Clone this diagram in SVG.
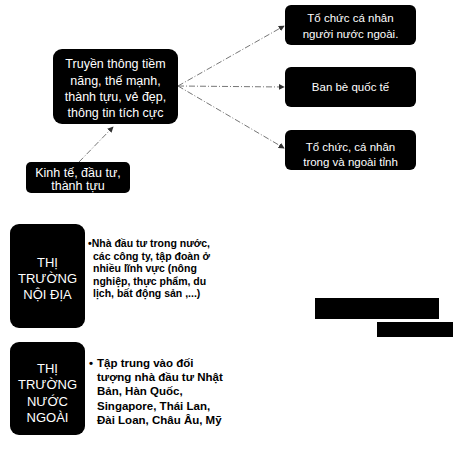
<svg xmlns="http://www.w3.org/2000/svg" width="460" height="452" viewBox="0 0 460 452">
<style>
.box{fill:#000}
.wt{fill:#fff;font-family:"Liberation Sans",Arial,sans-serif;font-size:11.5px;text-anchor:middle}
.wl{fill:#fff;font-family:"Liberation Sans",Arial,sans-serif;font-size:12.5px;text-anchor:middle}
.big{fill:#fff;font-family:"Liberation Sans",Arial,sans-serif;font-size:13px;text-anchor:middle}
.bt{fill:#000;font-family:"Liberation Sans",Arial,sans-serif;font-size:10.5px;font-weight:bold}
.conn{stroke:#777;stroke-width:1;fill:none;stroke-dasharray:6 2 1 2}
</style>
<defs>
<marker id="ah" viewBox="0 0 8 8" refX="7" refY="4" markerWidth="6" markerHeight="6" orient="auto" markerUnits="userSpaceOnUse">
<path d="M0,0 L8,4 L0,8 z" fill="#333"/>
</marker>
</defs>
<rect width="460" height="452" fill="#fff"/>
<g id="connectors">
<path class="conn" d="M79,162 L113,127" marker-end="url(#ah)"/>
<path class="conn" d="M178,86 L284,26" marker-end="url(#ah)"/>
<path class="conn" d="M178,86 L284,87" marker-end="url(#ah)"/>
<path class="conn" d="M178,86 L284,148" marker-end="url(#ah)"/>
</g>
<g id="main">
<rect class="box" x="53" y="49" width="125" height="75" rx="9"/>
<text class="wl" x="115.5" y="68">Truyền thông tiềm</text>
<text class="wl" x="115.5" y="84.5">năng, thế mạnh,</text>
<text class="wl" x="115.5" y="101">thành tựu, vẻ đẹp,</text>
<text class="wl" x="115.5" y="117">thông tin tích cực</text>
</g>
<g id="kinhte">
<rect class="box" x="26" y="162" width="104" height="31" rx="5"/>
<text class="wl" x="78" y="177">Kinh tế, đầu tư,</text>
<text class="wl" x="78" y="190">thành tựu</text>
</g>
<g id="n1">
<rect class="box" x="285" y="5" width="131" height="40" rx="6"/>
<text class="wt" x="350.5" y="22">Tổ chức cá nhân</text>
<text class="wt" x="350.5" y="38">người nước ngoài.</text>
</g>
<g id="n2">
<rect class="box" x="285" y="67" width="131" height="40" rx="6"/>
<text class="wt" x="350.5" y="91">Ban bè quốc tế</text>
</g>
<g id="n3">
<rect class="box" x="285" y="130" width="131" height="40" rx="6"/>
<text class="wt" x="350.5" y="151">Tổ chức, cá nhân</text>
<text class="wt" x="350.5" y="166">trong và ngoài tỉnh</text>
</g>
<g id="noidia">
<rect class="box" x="10" y="224" width="75" height="104" rx="9"/>
<text class="big" x="47.5" y="267">THỊ</text>
<text class="big" x="47.5" y="283">TRƯỜNG</text>
<text class="big" x="47.5" y="299">NỘI ĐỊA</text>
</g>
<g id="noidia-text">
<text class="bt" x="88" y="247">•Nhà đầu tư trong nước,</text>
<text class="bt" x="93" y="260">các công ty, tập đoàn ở</text>
<text class="bt" x="93" y="272">nhiều lĩnh vực (nông</text>
<text class="bt" x="93" y="285">nghiệp, thực phẩm, du</text>
<text class="bt" x="93" y="297">lịch, bất động sản ,...)</text>
</g>
<g id="nuocngoai">
<rect class="box" x="10" y="342" width="75" height="93" rx="9"/>
<text class="big" x="47.5" y="373">THỊ</text>
<text class="big" x="47.5" y="389">TRƯỜNG</text>
<text class="big" x="47.5" y="406">NƯỚC</text>
<text class="big" x="47.5" y="422">NGOÀI</text>
</g>
<g id="nuocngoai-text">
<text class="bt" x="89" y="367" style="font-size:11.5px">•</text>
<text class="bt" x="97" y="367" style="font-size:11.5px">Tập trung vào đối</text>
<text class="bt" x="97" y="381" style="font-size:11.5px">tượng nhà đầu tư Nhật</text>
<text class="bt" x="97" y="395" style="font-size:11.5px">Bản, Hàn Quốc,</text>
<text class="bt" x="97" y="410" style="font-size:11.5px">Singapore, Thái Lan,</text>
<text class="bt" x="97" y="424" style="font-size:11.5px">Đài Loan, Châu Âu, Mỹ</text>
</g>
<g id="redacted">
<rect x="315" y="298" width="124" height="21" fill="#000"/>
<rect x="377" y="322" width="76" height="15" fill="#000"/>
</g>
</svg>
